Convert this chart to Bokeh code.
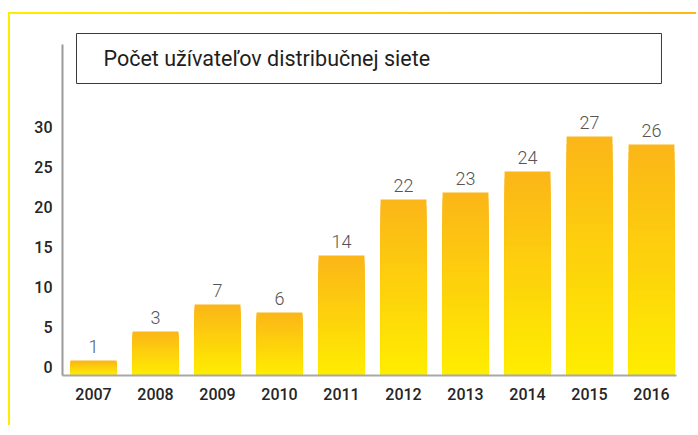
from bokeh.plotting import figure
from bokeh.models import FactorRange, Range1d, Label, FixedTicker, ColumnDataSource
from bokeh.core.properties import value
from bokeh.embed import file_html
from bokeh.resources import INLINE

# ---- data ----
years = ["2007", "2008", "2009", "2010", "2011", "2012", "2013", "2014", "2015", "2016"]
bar_heights = [0.75, 4.375, 7.75, 6.75, 13.875, 20.875, 21.75, 24.375, 28.75, 27.75]
value_labels = ["1", "3", "7", "6", "14", "22", "23", "24", "27", "26"]
y_ticks = [0, 5, 10, 15, 20, 25, 30]
title_text = "Počet užívateľov distribučnej siete"

# ---- style constants ----
BASE = -1.125
TOP_COLOR = (251, 181, 24)
BOTTOM_COLOR = (255, 238, 0)
N_SLICES = 30
TICK_FONT = "Roboto Medium"
TITLE_FONT = "Roboto"
LIGHT_FONT = "Roboto Light"

p = figure(
    x_range=FactorRange(factors=years, range_padding=0),
    y_range=Range1d(BASE, 42),
    width=688, height=413,
    output_backend="svg", toolbar_location=None,
    min_border_left=52, min_border_right=16, min_border_top=16, min_border_bottom=52,
)
p.styles = {
    "margin-top": "12px",
    "margin-left": "8px",
    "border-top": "2px solid #FFE600",
    "border-left": "2px solid #FFE600",
    "border-right": "0px",
    "border-bottom": "0px",
    "border-image": "linear-gradient(to right, #FFED00 0%, #FFD500 50%, #FBB817 100%) 1",
}
p.outline_line_color = None
p.xgrid.visible = False
p.ygrid.visible = False
p.background_fill_color = "white"
p.border_fill_color = "white"

# gradient bars: stacked slices, tallest first
xs, tops, cols = [], [], []
for k in range(N_SLICES):
    f = k / N_SLICES
    t = (k + 0.5) / N_SLICES
    c = tuple(int(round(TOP_COLOR[i] + (BOTTOM_COLOR[i] - TOP_COLOR[i]) * t)) for i in range(3))
    hexc = "#%02x%02x%02x" % c
    for yr, h in zip(years, bar_heights):
        xs.append(yr)
        tops.append(BASE + (h - BASE) * (1 - f))
        cols.append(hexc)
src = ColumnDataSource(dict(x=xs, top=tops, color=cols))
p.vbar(x="x", top="top", bottom=BASE, width=0.74, fill_color="color", line_color=None, source=src)

# value labels
p.text(x=years, y=bar_heights, text=value_labels, text_align="center",
       text_baseline="alphabetic", y_offset=-14,
       text_font=value(LIGHT_FONT), text_font_size="18px", text_color="#555555")

# title box
p.quad(left=0.226, right=9.661, top=41.625, bottom=35.375,
       fill_color="white", line_color="#3a3a3a", line_width=1)
p.add_layout(Label(x=0.661, y=38.56, text=title_text, text_baseline="middle",
                   text_font=TITLE_FONT, text_font_size="21.5px", text_color="#1e1e1e"))

# axes
ya = p.yaxis[0]
ya.ticker = FixedTicker(ticks=y_ticks)
ya.bounds = (BASE, 40.25)
ya.axis_line_color = "#9a9a9a"
ya.axis_line_width = 2
ya.major_tick_line_color = None
ya.minor_tick_line_color = None
ya.major_tick_out = 0
ya.major_tick_in = 0
ya.minor_tick_out = 0
ya.major_label_standoff = 10
ya.major_label_text_font = TICK_FONT
ya.major_label_text_font_size = "16px"
ya.major_label_text_color = "#262626"

xa = p.xaxis[0]
xa.bounds = (0, 9.9)
xa.axis_line_color = "#a8a8a8"
xa.axis_line_width = 2
xa.major_tick_line_color = None
xa.minor_tick_line_color = None
xa.major_tick_out = 0
xa.major_tick_in = 0
xa.minor_tick_out = 0
xa.major_label_standoff = 12
xa.major_label_text_font = TICK_FONT
xa.major_label_text_font_size = "16px"
xa.major_label_text_color = "#262626"

open("out.html", "w").write(file_html(p, INLINE))
